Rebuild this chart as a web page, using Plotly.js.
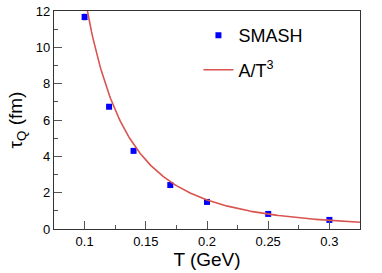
<!DOCTYPE html>
<html><head><meta charset="utf-8">
<script src="https://cdn.plot.ly/plotly-3.0.1.min.js"></script>
<style>html,body{margin:0;padding:0;background:#fff}#c{width:382px;height:273px}</style>
</head><body><div id="c"></div>
<script>
// Data
const T = [0.10, 0.12, 0.14, 0.17, 0.20, 0.25, 0.30];
const tauQ = [11.67, 6.73, 4.30, 2.42, 1.49, 0.83, 0.50];
const tauErr = [0.15, 0.10, 0.08, 0.06, 0.05, 0.04, 0.03];
const fitA = 0.0128; // A in A/T^3
const fitRange = [0.1, 0.325];

const fitT = [];
const fitY = [];
const nFit = 200;
for (let i = 0; i <= nFit; i++) {
  const t = fitRange[0] + (fitRange[1] - fitRange[0]) * i / nFit;
  fitT.push(t);
  fitY.push(fitA / (t * t * t));
}

const traces = [
  {x: T, y: tauQ, type: 'scatter', mode: 'markers', name: 'SMASH', legendgroup: 'a',
   marker: {symbol: 'square', size: 6, color: '#0000ff'},
   error_y: {type: 'data', array: tauErr, visible: true, color: '#0000ff', thickness: 1, width: 2}},
  {x: fitT, y: fitY, type: 'scatter', mode: 'lines', name: 'A/T<sup>3</sup>', legendgroup: 'b',
   line: {color: '#d9534f', width: 1.6}, cliponaxis: true}
];

const fam = 'Liberation Sans, Arial, sans-serif';
const axisFont = {family: fam, size: 13, color: '#000'};
const layout = {
  width: 382, height: 273,
  margin: {l: 54, r: 22, t: 11, b: 44},
  paper_bgcolor: '#fff', plot_bgcolor: '#fff',
  showlegend: true,
  legend: {x: 0.472, y: 0.972, xanchor: 'left', yanchor: 'top', bgcolor: 'rgba(0,0,0,0)',
           font: {family: fam, size: 18, color: '#000'},
           tracegroupgap: 8, itemwidth: 30},
  xaxis: {range: [0.075, 0.325], tickvals: [0.1, 0.15, 0.2, 0.25, 0.3],
          ticktext: ['0.1', '0.15', '0.2', '0.25', '0.3'],
          ticks: 'inside', ticklen: 8, tickcolor: '#555', showline: true, linecolor: '#333', linewidth: 1.2,
          mirror: true, showgrid: false, zeroline: false, tickfont: axisFont,
          minor: {tickvals: [0.075, 0.125, 0.175, 0.225, 0.275, 0.325], ticks: 'inside', ticklen: 4, tickcolor: '#555'},
          title: {text: 'T (GeV)', font: {family: fam, size: 19, color: '#000'}, standoff: 3}},
  yaxis: {range: [0, 12], tickvals: [0, 2, 4, 6, 8, 10, 12],
          ticks: 'inside', ticklen: 8, tickcolor: '#555', showline: true, linecolor: '#333', linewidth: 1.2,
          mirror: true, showgrid: false, zeroline: false, tickfont: axisFont,
          minor: {tickvals: [1, 3, 5, 7, 9, 11], ticks: 'inside', ticklen: 4, tickcolor: '#555'},
          title: {text: 'τ<sub>Q</sub> (fm)', font: {family: fam, size: 19, color: '#000'}, standoff: 8}}
};
Plotly.newPlot('c', traces, layout, {displayModeBar: false, staticPlot: true});
</script></body></html>
